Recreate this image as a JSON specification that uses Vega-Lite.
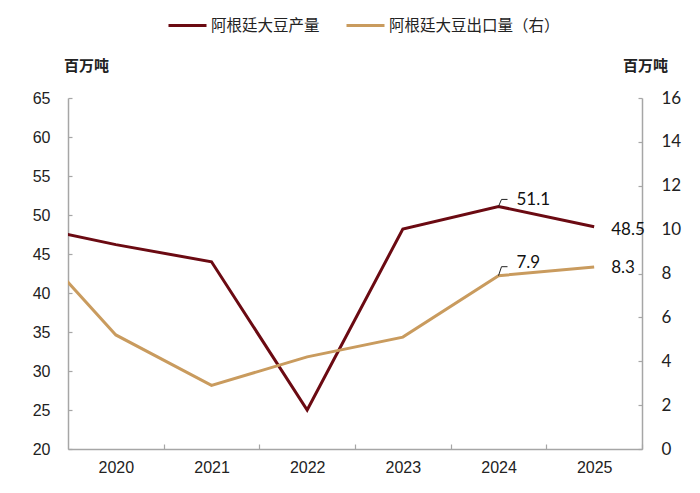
{
  "$schema": "https://vega.github.io/schema/vega-lite/v6.json",
  "autosize": {"type": "none"},
  "width": 574,
  "height": 351,
  "padding": {"left": 68, "top": 98, "right": 58, "bottom": 44},
  "background": "white",
  "config": {
    "view": {"stroke": null},
    "axis": {"grid": false, "domainColor": "#a6a6a6", "domainWidth": 1.5, "tickColor": "#a6a6a6", "tickWidth": 1.2, "labelColor": "#222", "titleColor": "#222"}
  },
  "data": {
    "values": [
      {"x": 2019, "series": "阿根廷大豆产量", "value": 48.8},
      {"x": 2020, "series": "阿根廷大豆产量", "value": 46.2},
      {"x": 2021, "series": "阿根廷大豆产量", "value": 44.0},
      {"x": 2022, "series": "阿根廷大豆产量", "value": 25.0},
      {"x": 2023, "series": "阿根廷大豆产量", "value": 48.2},
      {"x": 2024, "series": "阿根廷大豆产量", "value": 51.1},
      {"x": 2025, "series": "阿根廷大豆产量", "value": 48.5},
      {"x": 2019, "series": "阿根廷大豆出口量（右）", "value": 10.0},
      {"x": 2020, "series": "阿根廷大豆出口量（右）", "value": 5.2},
      {"x": 2021, "series": "阿根廷大豆出口量（右）", "value": 2.9},
      {"x": 2022, "series": "阿根廷大豆出口量（右）", "value": 4.2},
      {"x": 2023, "series": "阿根廷大豆出口量（右）", "value": 5.1},
      {"x": 2024, "series": "阿根廷大豆出口量（右）", "value": 7.9},
      {"x": 2025, "series": "阿根廷大豆出口量（右）", "value": 8.3}
    ]
  },
  "encoding": {
    "x": {
      "field": "x", "type": "quantitative",
      "scale": {"domain": [2019.5, 2025.5], "nice": false, "zero": false},
      "axis": {
        "title": null,
        "values": [2020.5, 2021.5, 2022.5, 2023.5, 2024.5, 2025.5],
        "labelExpr": "format(datum.value - 0.5, 'd')",
        "labelOffset": -47.8,
        "labelFlush": false,
        "labelOverlap": false,
        "tickSize": -5,
        "labelPadding": 15,
        "labelFont": "Liberation Sans",
        "labelFontSize": 16
      }
    }
  },
  "layer": [
    {
      "transform": [{"filter": "datum.series == '阿根廷大豆产量'"}],
      "encoding": {
        "y": {
          "field": "value", "type": "quantitative",
          "scale": {"domain": [20, 65], "nice": false, "zero": false},
          "axis": {
            "orient": "left",
            "values": [20, 25, 30, 35, 40, 45, 50, 55, 60, 65],
            "tickSize": -4,
            "labelPadding": 22,
            "labelFont": "Liberation Sans",
            "labelFontSize": 16,
            "title": "百万吨",
            "titleAngle": 0,
            "titleX": 18,
            "titleY": -33,
            "titleAlign": "center",
            "titleBaseline": "middle",
            "titleFont": "Noto Sans CJK SC",
            "titleFontSize": 15,
            "titleFontWeight": 600
          }
        }
      },
      "layer": [
        {
          "mark": {"type": "line", "strokeWidth": 3, "clip": true},
          "encoding": {
            "color": {
              "field": "series", "type": "nominal",
              "scale": {"domain": ["阿根廷大豆产量", "阿根廷大豆出口量（右）"], "range": ["#6b0a12", "#c99b5e"]},
              "legend": {
                "orient": "none", "legendX": 99, "legendY": -93,
                "direction": "horizontal", "title": null, "padding": 0,
                "symbolType": "stroke", "symbolSize": 1444, "symbolStrokeWidth": 3,
                "labelOffset": 3, "columnPadding": 20, "labelLimit": 400,
                "labelFont": "Noto Sans CJK SC", "labelFontSize": 15.5, "labelColor": "#222"
              }
            }
          }
        },
        {
          "transform": [{"filter": "datum.x == 2024"}],
          "mark": {"type": "text", "align": "left", "baseline": "middle", "dx": 18, "dy": -6, "font": "Lato", "fontSize": 17, "color": "#111"},
          "encoding": {"text": {"field": "value", "type": "quantitative", "format": ".1f"}}
        },
        {
          "transform": [{"filter": "datum.x == 2025"}],
          "mark": {"type": "text", "align": "left", "baseline": "middle", "dx": 17, "dy": 3, "font": "Lato", "fontSize": 17, "color": "#111"},
          "encoding": {"text": {"field": "value", "type": "quantitative", "format": ".1f"}}
        },
        {
          "transform": [{"filter": "datum.x == 2024"}],
          "mark": {"type": "rule", "color": "#222", "strokeWidth": 1, "x2Offset": 3, "y2Offset": -7},
          "encoding": {"x2": {"field": "x"}, "y2": {"field": "value"}}
        },
        {
          "transform": [{"filter": "datum.x == 2024"}],
          "mark": {"type": "rule", "color": "#222", "strokeWidth": 1, "xOffset": 3, "yOffset": -7, "x2Offset": 9, "y2Offset": -7},
          "encoding": {"x2": {"field": "x"}, "y2": {"field": "value"}}
        }
      ]
    },
    {
      "transform": [{"filter": "datum.series == '阿根廷大豆出口量（右）'"}],
      "encoding": {
        "y": {
          "field": "value", "type": "quantitative",
          "scale": {"domain": [0, 16], "nice": false},
          "axis": {
            "orient": "right",
            "values": [0, 2, 4, 6, 8, 10, 12, 14, 16],
            "tickSize": -4,
            "labelPadding": 23,
            "labelFont": "Lato",
            "labelFontSize": 17,
            "title": "百万吨",
            "titleAngle": 0,
            "titleX": 3,
            "titleY": -33,
            "titleAlign": "center",
            "titleBaseline": "middle",
            "titleFont": "Noto Sans CJK SC",
            "titleFontSize": 15,
            "titleFontWeight": 600
          }
        }
      },
      "layer": [
        {
          "mark": {"type": "line", "strokeWidth": 3, "clip": true},
          "encoding": {"color": {"field": "series", "type": "nominal"}}
        },
        {
          "transform": [{"filter": "datum.x == 2024"}],
          "mark": {"type": "text", "align": "left", "baseline": "middle", "dx": 18, "dy": -13, "font": "Lato", "fontSize": 17, "color": "#111"},
          "encoding": {"text": {"field": "value", "type": "quantitative", "format": ".1f"}}
        },
        {
          "transform": [{"filter": "datum.x == 2025"}],
          "mark": {"type": "text", "align": "left", "baseline": "middle", "dx": 17, "dy": 1, "font": "Lato", "fontSize": 17, "color": "#111"},
          "encoding": {"text": {"field": "value", "type": "quantitative", "format": ".1f"}}
        },
        {
          "transform": [{"filter": "datum.x == 2024"}],
          "mark": {"type": "rule", "color": "#222", "strokeWidth": 1, "x2Offset": 3, "y2Offset": -9},
          "encoding": {"x2": {"field": "x"}, "y2": {"field": "value"}}
        },
        {
          "transform": [{"filter": "datum.x == 2024"}],
          "mark": {"type": "rule", "color": "#222", "strokeWidth": 1, "xOffset": 3, "yOffset": -9, "x2Offset": 9, "y2Offset": -9},
          "encoding": {"x2": {"field": "x"}, "y2": {"field": "value"}}
        }
      ]
    }
  ],
  "resolve": {"scale": {"y": "independent"}}
}
